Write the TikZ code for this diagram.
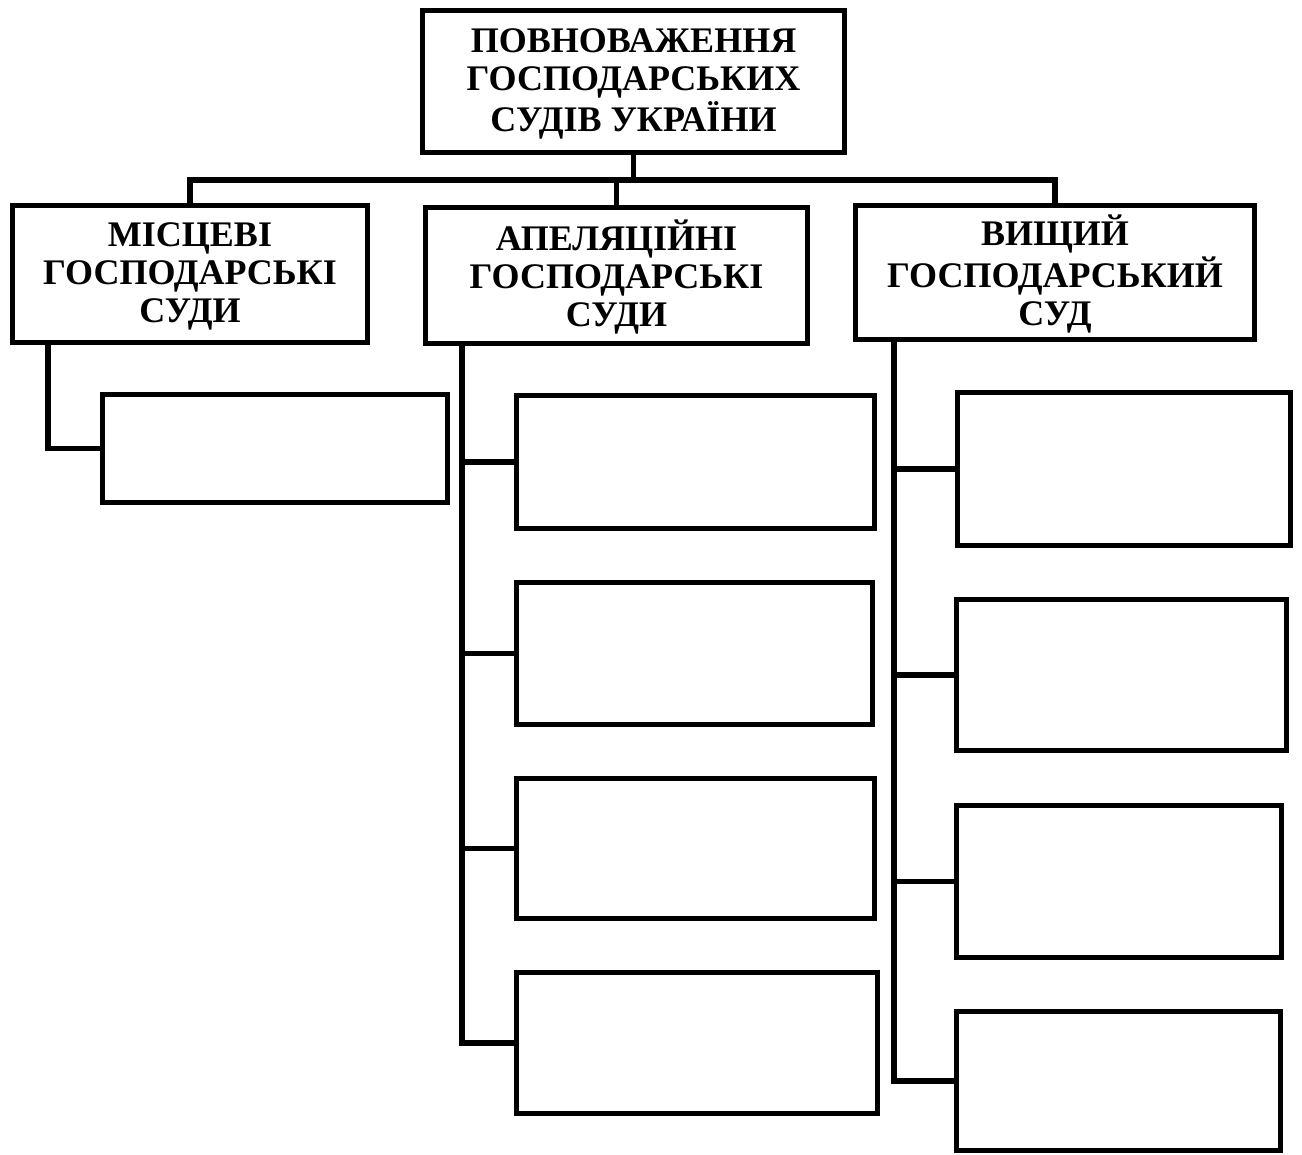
\documentclass[tikz,border=0pt]{standalone}
\usepackage{fontspec}
\setmainfont{Liberation Serif}
\newcommand{\ttltext}[1]{\raisebox{-3pt}[\height][\depth]{\begin{tabular}{@{}c@{}}#1\end{tabular}}}
\begin{document}
\begin{tikzpicture}[x=1pt,y=-1pt,
  box/.style={draw=black, line width=5.5pt, rectangle, inner sep=0pt, fill=white},
  title/.style={box, font=\fontsize{36}{38}\selectfont\bfseries, align=center},
  wire/.style={draw=black, line width=5.5pt, line join=miter}]
\useasboundingbox[fill=white] (0,0) rectangle (1302,1155);

% level 0
\node[title, minimum width=422pt, minimum height=142pt] (top) at (633.5,81.5)
  {\ttltext{ПОВНОВАЖЕННЯ\\ГОСПОДАРСЬКИХ\\СУДІВ УКРАЇНИ}};

% level 1
\node[title, minimum width=355pt, minimum height=137pt] (left) at (190,274)
  {\ttltext{МІСЦЕВІ\\ГОСПОДАРСЬКІ\\СУДИ}};
\node[title, minimum width=382pt, minimum height=136pt] (mid) at (616.5,275.5)
  {\ttltext{АПЕЛЯЦІЙНІ\\ГОСПОДАРСЬКІ\\СУДИ}};
\node[title, minimum width=399pt, minimum height=134pt] (right) at (1055,272.5)
  {\ttltext{ВИЩИЙ\\ГОСПОДАРСЬКИЙ\\СУД}};

% level 2
\node[box, minimum width=345pt, minimum height=108pt] (L1) at (275,448.5) {};
\node[box, minimum width=358pt, minimum height=133pt] (M1) at (695.5,462) {};
\node[box, minimum width=356pt, minimum height=142pt] (M2) at (694.5,653.5) {};
\node[box, minimum width=358pt, minimum height=140pt] (M3) at (695.5,848.5) {};
\node[box, minimum width=361pt, minimum height=141pt] (M4) at (697,1043) {};
\node[box, minimum width=333pt, minimum height=153pt] (R1) at (1124,469) {};
\node[box, minimum width=330pt, minimum height=151pt] (R2) at (1121.5,675) {};
\node[box, minimum width=325pt, minimum height=152pt] (R3) at (1119,881.5) {};
\node[box, minimum width=324pt, minimum height=139pt] (R4) at (1118.5,1081) {};

% bus
\coordinate (bus) at (634,180);
\draw[wire] (top.south) -- (top.south |- bus);
\draw[wire] (left.north) -- (left.north |- bus) -- (right.north |- bus) -- (right.north);
\draw[wire] (mid.north) -- (mid.north |- bus);

% left branch
\coordinate (ltop) at (48,342.5);
\draw[wire] (ltop) |- (L1.west);

% middle branch
\coordinate (mtop) at (462,343.5);
\draw[wire] (mtop) |- (M4.west);
\draw[wire] (M1.west) -- (M1.west -| mtop);
\draw[wire] (M2.west) -- (M2.west -| mtop);
\draw[wire] (M3.west) -- (M3.west -| mtop);

% right branch
\coordinate (rtop) at (894,339.5);
\draw[wire] (rtop) |- (R4.west);
\draw[wire] (R1.west) -- (R1.west -| rtop);
\draw[wire] (R2.west) -- (R2.west -| rtop);
\draw[wire] (R3.west) -- (R3.west -| rtop);
\end{tikzpicture}
\end{document}
